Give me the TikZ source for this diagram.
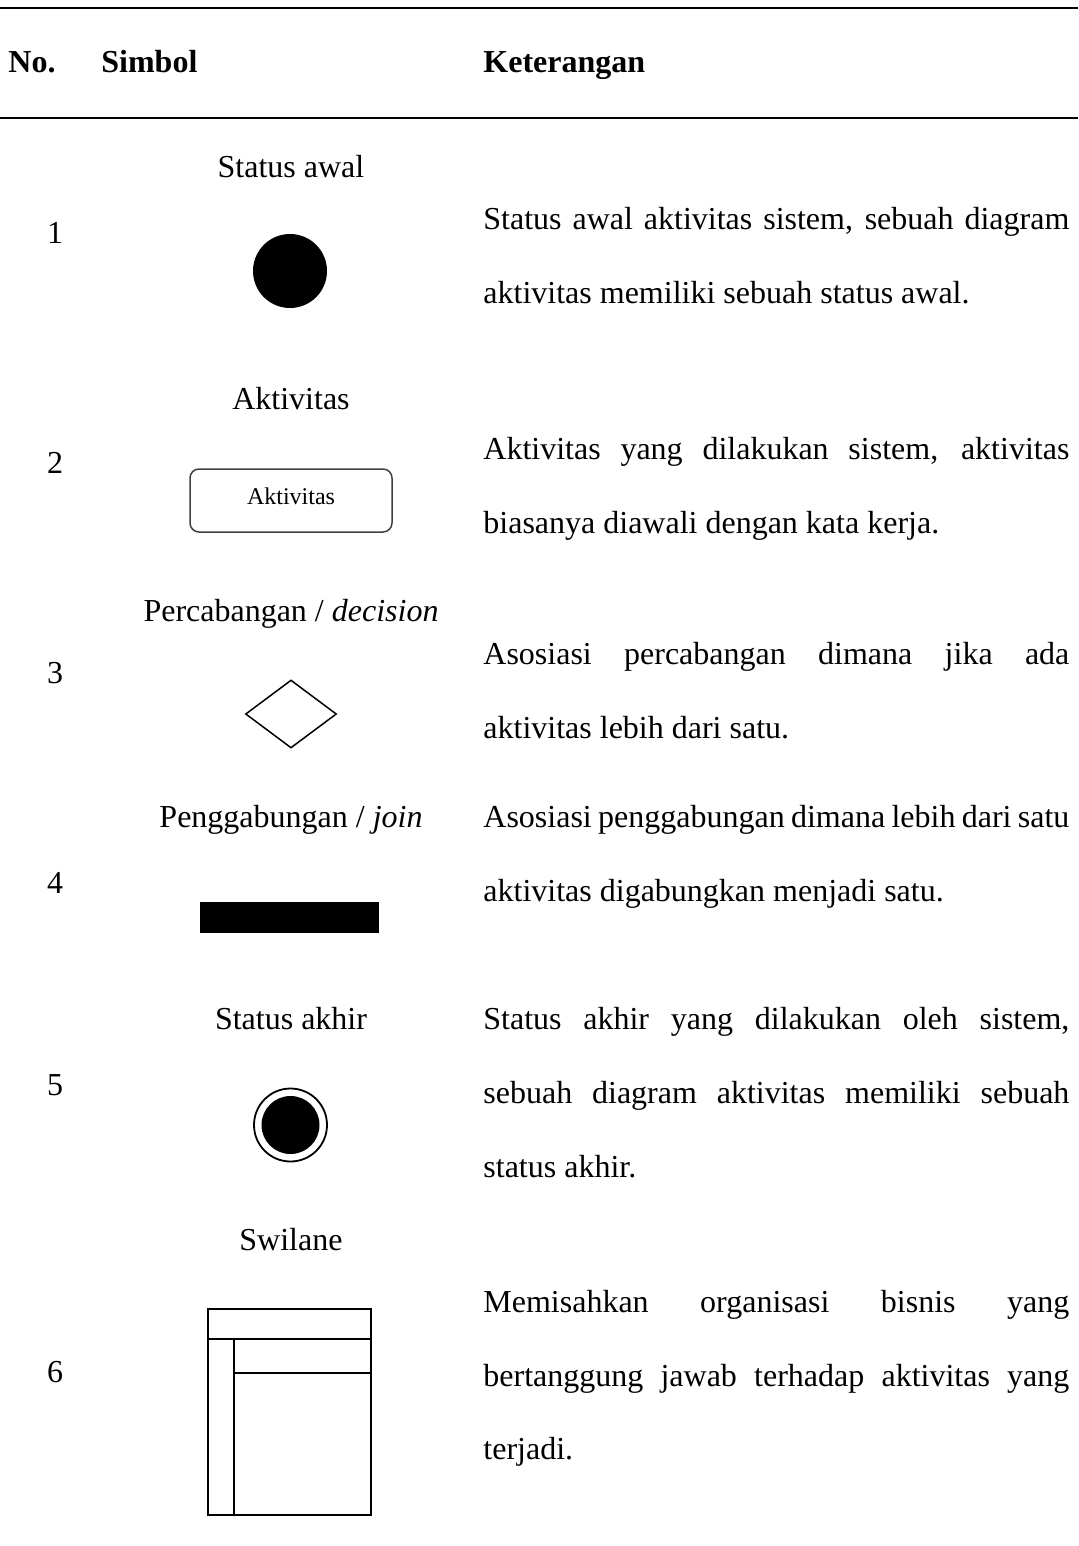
\documentclass[tikz,border=0pt]{standalone}
\usepackage{fontspec}
\setmainfont{Liberation Serif}
\usetikzlibrary{shapes.geometric}
\newcommand{\jline}[1]{\makebox[293pt][s]{#1}}
\begin{document}
\begin{tikzpicture}[x=0.5pt,y=-0.5pt,
  body/.style={font=\fontsize{16}{19}\selectfont, inner sep=0pt, anchor=base},
  desc/.style={body, anchor=base west},
  hdr/.style={font=\fontsize{16}{19}\selectfont\bfseries, inner sep=0pt, anchor=base west},
  tablerule/.style={line width=1.2pt},
  symline/.style={line width=0.75pt},
]
\useasboundingbox (0,0) rectangle (1078,1546);

% table rules
\coordinate (r1a) at (0,8);    \coordinate (r1b) at (1078,8);
\coordinate (r2a) at (0,118);  \coordinate (r2b) at (1078,118);
\draw[tablerule] (r1a) -- (r1b);
\draw[tablerule] (r2a) -- (r2b);

% header
\node[hdr] (hno) at (8,73) {No.};
\node[hdr] (hsym) at (101,73) {Simbol};
\node[hdr] (hket) at (483,73) {Keterangan};

% row 1
\node[body] (n1) at (55,243) {1};
\node[body] (t1) at (291,178) {Status awal};
\node[circle, fill=black, minimum size=37pt, inner sep=0pt] (s1) at (290,271) {};
\node[desc] (d1a) at (483,229) {\jline{Status awal aktivitas sistem, sebuah diagram}};
\node[desc] (d1b) at (483,303) {aktivitas memiliki sebuah status awal.};

% row 2
\node[body] (n2) at (55,473) {2};
\node[body] (t2) at (291,409) {Aktivitas};
\node[draw=black!75, symline, rounded corners=4.5pt, minimum width=101pt, minimum height=31.5pt,
      inner sep=0pt, text depth=4pt, font=\fontsize{12}{14}\selectfont] (s2) at (291,500.5) {Aktivitas};
\node[desc] (d2a) at (483,459) {\jline{Aktivitas yang dilakukan sistem, aktivitas}};
\node[desc] (d2b) at (483,533) {biasanya diawali dengan kata kerja.};

% row 3
\node[body] (n3) at (55,683) {3};
\node[body] (t3) at (291,621) {Percabangan / \textit{decision}};
\node[diamond, draw, symline, minimum width=45.5pt, minimum height=34pt, inner sep=0pt] (s3) at (291,714) {};
\node[desc] (d3a) at (483,664) {\jline{Asosiasi percabangan dimana jika ada}};
\node[desc] (d3b) at (483,738) {aktivitas lebih dari satu.};

% row 4
\node[body] (n4) at (55,893) {4};
\node[body] (t4) at (291,827) {Penggabungan / \textit{join}};
\node[fill=black, minimum width=89.5pt, minimum height=15.5pt, inner sep=0pt] (s4) at (289.5,917.5) {};
\node[desc] (d4a) at (483,827) {\jline{Asosiasi penggabungan dimana lebih dari satu}};
\node[desc] (d4b) at (483,901) {aktivitas digabungkan menjadi satu.};

% row 5
\node[body] (n5) at (55,1095) {5};
\node[body] (t5) at (291,1029) {Status akhir};
\node[circle, draw=black, line width=0.9pt, minimum size=36.5pt, inner sep=0pt] (s5) at (290.5,1125) {};
\node[circle, fill=black, minimum size=29pt, inner sep=0pt] (s5in) at (s5.center) {};
\node[desc] (d5a) at (483,1029) {\jline{Status akhir yang dilakukan oleh sistem,}};
\node[desc] (d5b) at (483,1103) {\jline{sebuah diagram aktivitas memiliki sebuah}};
\node[desc] (d5c) at (483,1177) {status akhir.};

% row 6
\node[body] (n6) at (55,1382) {6};
\node[body] (t6) at (291,1250) {Swilane};
\coordinate (swA) at (208,1309);
\coordinate (swB) at (371,1515);
\draw[symline] (swA) rectangle (swB);
\draw[symline] (208,1339) -- (371,1339);
\draw[symline] (234,1339) -- (234,1515);
\draw[symline] (234,1373) -- (371,1373);
\node[desc] (d6a) at (483,1312) {\jline{Memisahkan organisasi bisnis yang}};
\node[desc] (d6b) at (483,1386) {\jline{bertanggung jawab terhadap aktivitas yang}};
\node[desc] (d6c) at (483,1459) {terjadi.};
\end{tikzpicture}
\end{document}
